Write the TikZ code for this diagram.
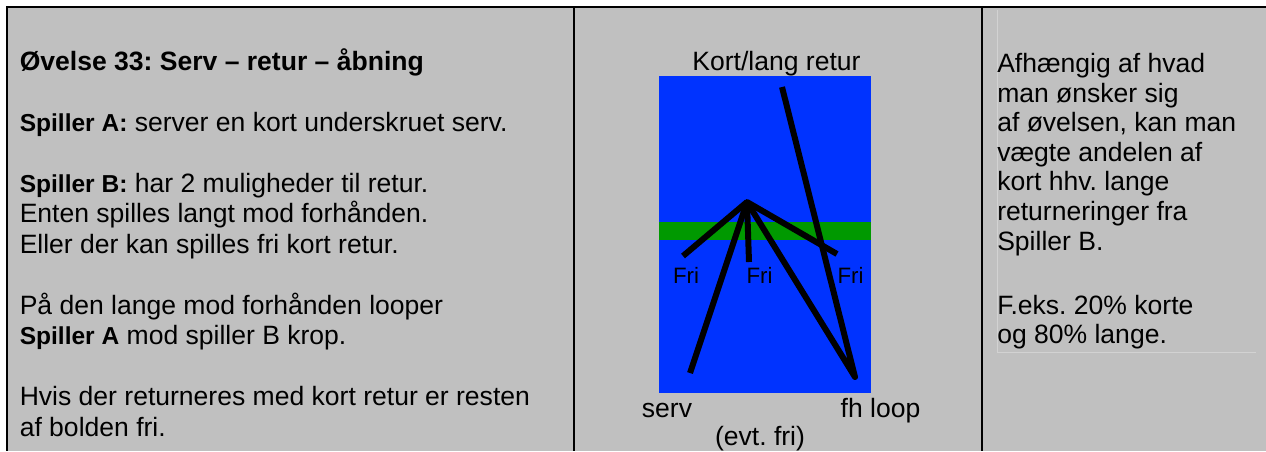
\documentclass[tikz,border=0pt]{standalone}
\usepackage{fontspec}
\setmainfont{Liberation Sans}
\frenchspacing
\definecolor{bgrey}{HTML}{C0C0C0}
\definecolor{court}{HTML}{0033FF}
\definecolor{netgreen}{HTML}{009900}
\definecolor{faintline}{HTML}{D2D2D2}
\newcommand\labbold[1]{{\fontsize{18.4pt}{23pt}\selectfont\bfseries #1}}
\begin{document}
\frenchspacing
\begin{tikzpicture}[x=0.75pt,y=-0.75pt,
  txt/.style={anchor=base west,inner sep=0pt,font=\fontsize{19.9pt}{23pt}\selectfont},
  mid/.style={anchor=base,inner sep=0pt,font=\fontsize{19.9pt}{23pt}\selectfont},
  frilab/.style={anchor=base,inner sep=0pt,font=\fontsize{16.7pt}{20pt}\selectfont},
  border/.style={line width=1.5pt,black},
  shot/.style={line width=4.5pt,black,line join=round},
  faint/.style={line width=0.75pt,faintline}]
\useasboundingbox (0,0) rectangle (1266,451);
\fill[white] (0,0) rectangle (1266,451);
\fill[bgrey] (7,7) rectangle (1266,451);
% table rules
\draw[border] (6,7) -- (1266,7);
\draw[border] (7,6) -- (7,451);
\draw[border] (574,7) -- (574,451);
\draw[border] (982,7) -- (982,451);
% faint text box in right column
\draw[faint] (997,10) -- (997,352) -- (1256,352);
% left column
\node[txt] (title) at (19.5,70) {\bfseries Øvelse 33: Serv – retur – åbning};
\node[txt] (l1) at (19.5,131) {\labbold{Spiller A:} server en kort underskruet serv.};
\node[txt] (l2) at (19.5,192) {\labbold{Spiller B:} har 2 muligheder til retur.};
\node[txt] (l3) at (19.5,222.5) {Enten spilles langt mod forhånden.};
\node[txt] (l4) at (19.5,253) {Eller der kan spilles fri kort retur.};
\node[txt] (l5) at (19.5,314) {På den lange mod forhånden looper};
\node[txt] (l6) at (19.5,344.5) {\labbold{Spiller A} mod spiller B krop.};
\node[txt] (l7) at (19.5,405.5) {Hvis der returneres med kort retur er resten};
\node[txt] (l8) at (19.5,436) {af bolden fri.};
% middle column: court
\fill[court] (659,76) rectangle (871,393);
\fill[netgreen] (659,222) rectangle (871,239.5);
\node[mid] (kl) at (776.5,70) {Kort/lang retur};
\node[mid] (serv) at (667,417) {serv};
\node[mid] (fh) at (880.5,417) {fh loop};
\node[mid] (evt) at (760,445) {(evt. fri)};
\node[frilab] (fri1) at (686,283) {Fri};
\node[frilab] (fri2) at (759.5,283) {Fri};
\node[frilab] (fri3) at (850.5,283) {Fri};
\coordinate (apex) at (747,202);
\coordinate (servpt) at (690,373);
\coordinate (fhpt) at (855,377);
\coordinate (longpt) at (782,87);
\coordinate (f1end) at (683,256);
\coordinate (f2end) at (749,262);
\coordinate (f3end) at (837,254);
\draw[shot] (servpt) -- (apex) -- (fhpt) -- (longpt);
\draw[shot] (apex) -- (f1end);
\draw[shot] (apex) -- (f2end);
\draw[shot] (apex) -- (f3end);
% right column
\node[txt] (r1) at (997,72) {Afhængig af hvad};
\node[txt] (r2) at (997,102) {man ønsker sig};
\node[txt] (r3) at (997,131) {af øvelsen, kan man};
\node[txt] (r4) at (997,161) {vægte andelen af};
\node[txt] (r5) at (997,190) {kort hhv. lange};
\node[txt] (r6) at (997,220) {returneringer fra};
\node[txt] (r7) at (997,250) {Spiller B.};
\node[txt] (r8) at (997,314) {F.eks. 20\% korte};
\node[txt] (r9) at (997,343) {og 80\% lange.};
\end{tikzpicture}
\end{document}
